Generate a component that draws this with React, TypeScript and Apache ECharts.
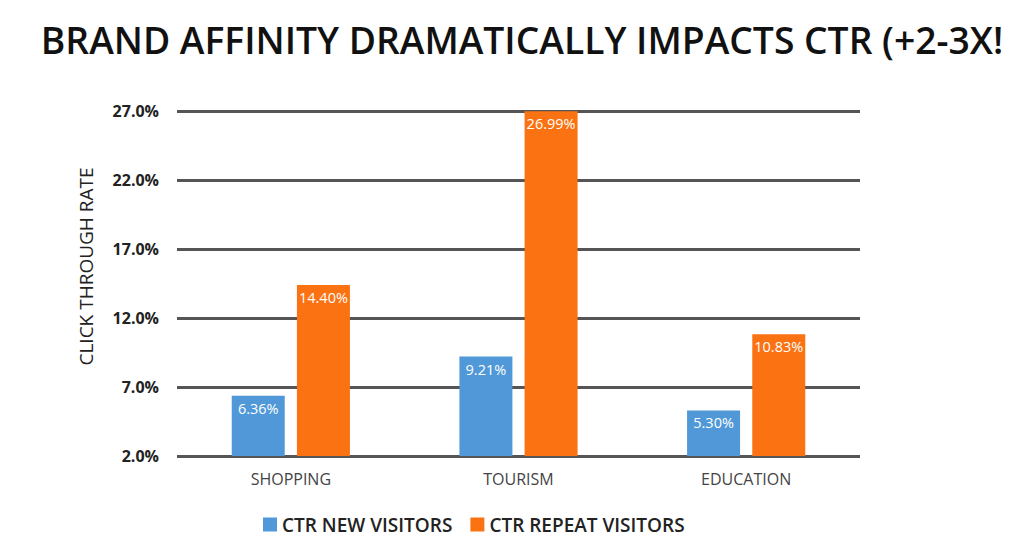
import React, { useEffect, useRef } from "react";
import * as echarts from "echarts";

const categories = ["SHOPPING", "TOURISM", "EDUCATION"];
const newVisitors = [6.36, 9.21, 5.3];
const repeatVisitors = [14.4, 26.99, 10.83];
const seriesNames = ["CTR NEW VISITORS", "CTR REPEAT VISITORS"];
const titleText = "BRAND AFFINITY DRAMATICALLY IMPACTS CTR (+2-3X!";
const yAxisName = "CLICK THROUGH RATE";

const FONT = "'Open Sans', 'Noto Sans', sans-serif";

export default function App() {
  const ref = useRef<HTMLDivElement>(null);
  useEffect(() => {
    if (!ref.current) return;
    const chart = echarts.init(ref.current, undefined, { renderer: "svg" });
    chart.setOption({
      animation: false,
      backgroundColor: "#ffffff",
      textStyle: { fontFamily: FONT },
      graphic: [
        {
          type: "text",
          x: 522,
          y: 39,
          scaleX: 0.98,
          style: {
            text: titleText,
            font: `600 38px ${FONT}`,
            fill: "#111111",
            textAlign: "center",
            textVerticalAlign: "middle",
          },
        },
      ],
      legend: {
        left: 258,
        top: 510,
        itemWidth: 14,
        itemHeight: 14,
        itemGap: 18,
        icon: "rect",
        textStyle: { fontSize: 19, color: "#222", fontFamily: FONT, fontWeight: 600 },
        data: seriesNames,
      },
      grid: { left: 177, right: 164, top: 111, bottom: 99 },
      xAxis: {
        type: "category",
        data: categories,
        axisTick: { show: false },
        axisLine: { show: false },
        axisLabel: { color: "#444", fontSize: 16, margin: 15, fontFamily: FONT },
      },
      yAxis: {
        type: "value",
        min: 2,
        max: 27,
        interval: 5,
        name: yAxisName,
        nameLocation: "middle",
        nameGap: 82,
        nameTextStyle: {
          fontSize: 19,
          color: "#222",
          fontWeight: 500,
          fontFamily: FONT,
          padding: [0, 0, 0, 34],
        },
        axisLine: { show: false },
        axisTick: { show: false },
        axisLabel: {
          formatter: (v: number) => v.toFixed(1) + "%",
          fontSize: 16,
          fontWeight: "bold",
          color: "#222",
          margin: 18,
          fontFamily: FONT,
        },
        splitLine: { lineStyle: { color: "#555555", width: 3 } },
      },
      series: [
        {
          name: seriesNames[0],
          type: "bar",
          data: newVisitors,
          barWidth: 53,
          barGap: "23%",
          itemStyle: { color: "#5098D8" },
          label: {
            show: true,
            position: "insideTop",
            distance: 5,
            color: "#fff",
            fontSize: 14.5,
            fontWeight: 500,
            fontFamily: FONT,
            formatter: (p: any) => p.value.toFixed(2) + "%",
          },
        },
        {
          name: seriesNames[1],
          type: "bar",
          data: repeatVisitors,
          barWidth: 53,
          barGap: "23%",
          itemStyle: { color: "#FA7212" },
          label: {
            show: true,
            position: "insideTop",
            distance: 5,
            color: "#fff",
            fontSize: 14.5,
            fontWeight: 500,
            fontFamily: FONT,
            formatter: (p: any) => p.value.toFixed(2) + "%",
          },
        },
      ],
    });
    return () => chart.dispose();
  }, []);
  return (
    <div
      ref={ref}
      style={{ position: "fixed", left: 0, top: 0, width: 1024, height: 555, background: "#fff" }}
    />
  );
}
